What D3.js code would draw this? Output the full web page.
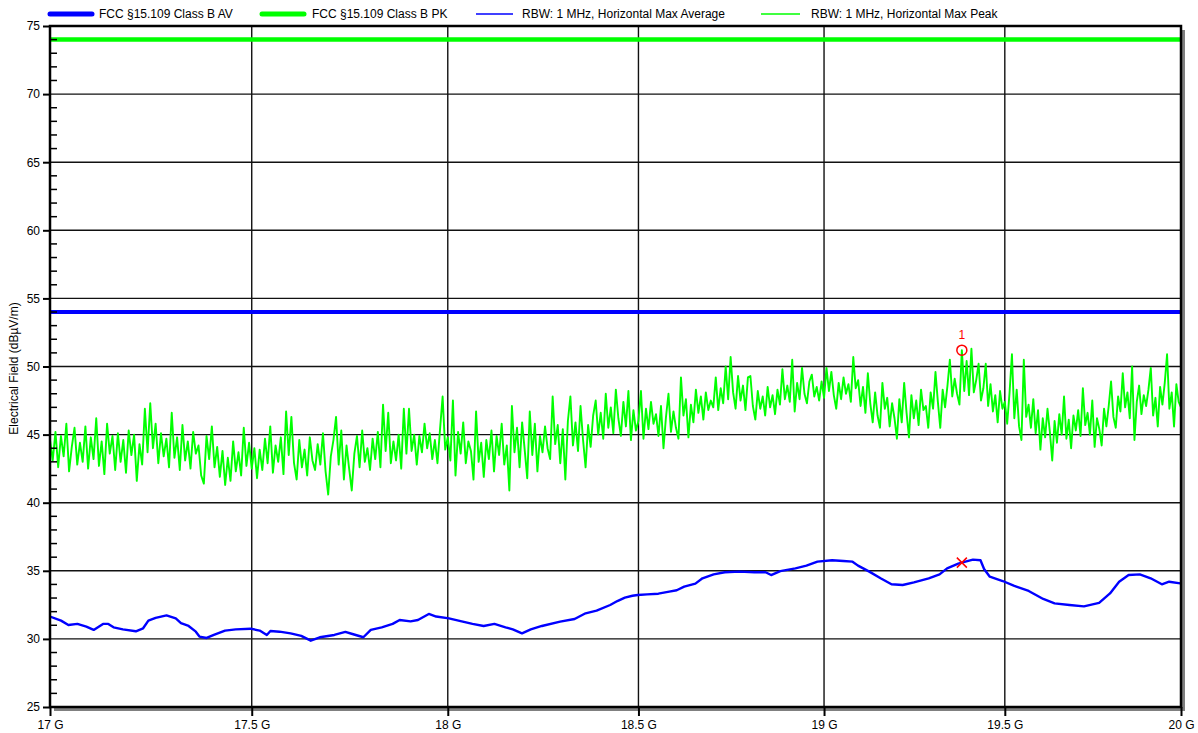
<!DOCTYPE html>
<html>
<head>
<meta charset="utf-8">
<script src="https://cdn.jsdelivr.net/npm/d3@7"></script>
<style>
  body { margin: 0; background: #fff; }
  svg { display: block; font-family: "Liberation Sans", Arial, Helvetica, sans-serif; }
</style>
</head>
<body>
<svg id="chart" width="1198" height="733"></svg>
<script>
// ---- Data -------------------------------------------------------------
const limitAV = 54;   // FCC §15.109 Class B average limit, dBµV/m
const limitPK = 74;   // FCC §15.109 Class B peak limit, dBµV/m

const xTickValues = [17, 17.5, 18, 18.5, 19, 19.5, 20];          // GHz
const yTickValues = [25, 30, 35, 40, 45, 50, 55, 60, 65, 70, 75];  // dBµV/m
const yAxisTitle = "Electrical Field (dBµV/m)";

const legendLabels = [
  "FCC §15.109 Class B AV",
  "FCC §15.109 Class B PK",
  "RBW: 1 MHz, Horizontal Max Average",
  "RBW: 1 MHz, Horizontal Max Peak"
];

// Average detector trace (frequency in GHz, level in dBµV/m)
const avgFreq = [
  17.000, 17.027, 17.045, 17.067, 17.089, 17.107, 17.130, 17.143, 17.156, 17.179,
  17.211, 17.229, 17.242, 17.260, 17.287, 17.310, 17.323, 17.342, 17.360, 17.369,
  17.387, 17.405, 17.433, 17.460, 17.497, 17.520, 17.538, 17.547, 17.570, 17.598,
  17.625, 17.649, 17.672, 17.709, 17.737, 17.755, 17.783, 17.802, 17.830, 17.858,
  17.876, 17.904, 17.923, 17.951, 17.970, 18.003, 18.036, 18.064, 18.093, 18.121,
  18.150, 18.169, 18.193, 18.216, 18.245, 18.293, 18.331, 18.360, 18.389, 18.425,
  18.444, 18.464, 18.484, 18.498, 18.523, 18.553, 18.582, 18.602, 18.622, 18.652,
  18.671, 18.701, 18.731, 18.771, 18.811, 18.841, 18.856, 18.881, 18.922, 18.952,
  18.982, 19.022, 19.053, 19.078, 19.093, 19.124, 19.155, 19.185, 19.216, 19.247,
  19.288, 19.318, 19.339, 19.370, 19.390, 19.411, 19.432, 19.442, 19.458, 19.494,
  19.525, 19.567, 19.608, 19.640, 19.682, 19.723, 19.766, 19.797, 19.823, 19.850,
  19.882, 19.913, 19.945, 19.966, 19.998, 20.000
];
const avgLevel = [
  31.64, 31.34, 31.02, 31.10, 30.90, 30.66, 31.10, 31.10, 30.85, 30.70,
  30.56, 30.78, 31.34, 31.54, 31.73, 31.50, 31.15, 30.95, 30.53, 30.17,
  30.07, 30.29, 30.61, 30.70, 30.75, 30.61, 30.29, 30.58, 30.53, 30.41,
  30.22, 29.87, 30.12, 30.29, 30.51, 30.36, 30.12, 30.66, 30.85, 31.10,
  31.39, 31.29, 31.39, 31.83, 31.64, 31.51, 31.29, 31.10, 30.95, 31.10,
  30.85, 30.70, 30.41, 30.70, 30.95, 31.27, 31.46, 31.88, 32.08, 32.49,
  32.78, 33.03, 33.17, 33.22, 33.27, 33.32, 33.47, 33.57, 33.84, 34.06,
  34.45, 34.74, 34.89, 34.94, 34.89, 34.89, 34.69, 34.98, 35.18, 35.38,
  35.67, 35.77, 35.72, 35.67, 35.38, 34.94, 34.45, 34.01, 33.96, 34.15,
  34.45, 34.74, 35.18, 35.52, 35.67, 35.82, 35.77, 35.13, 34.57, 34.25,
  33.91, 33.52, 32.93, 32.61, 32.49, 32.39, 32.64, 33.34, 34.20, 34.69,
  34.74, 34.45, 34.01, 34.20, 34.08, 34.05
];

// Peak detector trace: sweep 17 GHz .. 20 GHz, equally spaced points
const pkStartGHz = 17;
const pkStopGHz = 20;
const pkLevel = [
  44.6,43.1,45.2,42.6,44.9,43.4,45.8,42.3,44.1,45.5,42.8,44.4,43.0,45.6,42.5,
  44.8,43.2,46.2,42.7,44.5,42.1,45.8,43.6,44.9,42.4,45.1,43.0,44.6,42.2,45.3,
  43.5,45.0,41.6,44.3,42.8,46.9,43.7,47.3,44.0,45.8,42.9,45.1,43.4,44.7,42.6,
  46.6,43.3,44.8,42.4,45.7,43.1,44.5,42.5,45.2,43.6,44.2,42.0,41.4,44.9,43.2,
  45.6,42.6,44.1,41.9,43.8,41.3,43.3,41.6,44.5,42.3,43.7,42.0,45.5,42.7,44.4,
  42.5,44.0,41.8,43.9,42.4,44.7,42.9,45.6,42.2,44.2,43.0,44.8,42.1,46.7,43.5,
  46.3,42.9,41.7,44.6,42.6,43.9,42.0,44.8,43.1,42.4,44.3,42.8,45.1,42.3,40.6,
  43.4,44.6,46.3,42.8,45.3,41.7,44.2,42.5,40.9,43.6,44.9,42.6,45.3,43.0,44.0,
  42.4,44.7,43.2,45.2,42.6,47.2,43.8,46.6,42.9,44.5,43.1,45.0,42.5,46.9,43.6,
  46.9,43.8,45.0,42.8,44.9,43.7,45.8,44.0,45.1,43.2,44.6,42.9,45.4,47.8,43.9,
  44.8,43.1,47.5,42.0,45.2,43.6,45.9,42.9,44.5,43.8,41.7,46.7,43.0,44.4,41.9,
  44.6,43.2,45.3,42.3,44.9,43.5,45.8,42.8,44.2,40.9,47.1,43.7,45.5,42.6,45.9,
  43.9,41.8,46.7,43.5,45.8,42.3,44.9,43.7,45.6,44.0,43.2,47.8,44.3,45.7,42.9,
  45.4,41.7,46.0,47.8,44.2,45.9,43.8,47.1,44.6,42.6,45.7,44.1,46.4,47.5,45.0,
  46.6,44.7,48.0,45.5,47.0,45.1,48.3,46.2,44.9,47.4,45.6,48.2,44.6,46.8,45.3,
  46.0,48.2,44.7,46.9,45.4,47.4,45.8,46.5,44.9,47.1,44.0,46.3,48.0,45.2,46.7,
  45.5,44.7,49.2,46.4,47.6,44.8,47.2,45.9,48.3,46.6,47.8,46.1,48.1,46.8,47.5,
  47.0,49.2,46.8,48.4,47.3,50.0,47.6,50.7,48.1,46.9,49.3,47.5,48.6,46.8,49.2,
  49.3,47.1,46.1,48.2,46.9,47.8,46.4,48.5,47.0,47.9,46.5,48.3,47.2,49.8,47.6,
  48.6,47.4,50.5,46.7,48.8,47.6,49.9,48.0,47.3,48.9,49.4,47.8,48.5,47.5,48.9,
  47.7,49.9,48.2,49.6,47.9,46.9,48.8,47.6,49.2,48.0,48.7,47.4,50.7,48.4,49.0,
  47.1,48.5,46.6,49.5,47.3,45.9,48.1,46.4,45.5,48.8,46.9,47.7,45.6,47.3,46.2,
  44.7,47.6,45.9,48.8,46.6,44.8,47.9,46.2,47.5,45.7,48.3,46.8,47.1,45.5,48.1,
  46.9,49.6,47.4,45.5,48.3,47.0,48.6,50.5,47.8,49.1,48.0,47.2,51.2,48.2,50.4,
  47.9,51.3,48.1,49.0,50.2,47.5,48.4,50.2,47.1,48.7,46.7,47.9,45.9,48.2,46.9,
  47.4,45.8,48.1,50.9,46.2,48.3,45.6,44.6,50.5,46.3,47.2,45.5,47.6,45.1,46.8,
  43.9,46.2,44.8,46.9,45.2,43.1,46.0,44.4,46.5,45.0,47.8,44.7,46.1,44.0,46.4,
  45.3,46.8,44.9,48.4,45.7,46.6,45.0,47.5,44.1,46.2,45.4,44.2,46.9,45.6,47.1,
  48.9,46.3,45.5,47.8,46.7,49.5,47.0,48.1,46.2,50.0,44.6,47.4,48.6,46.5,47.9,
  47.1,48.3,49.9,46.4,47.7,45.6,48.5,47.2,48.8,50.9,46.9,48.1,45.6,48.7,47.4,
  47.0
];

// Marker 1
const markerLabel = "1";
const markerFreq = 19.38;   // GHz
const markerPeak = 51.2;    // dBµV/m on the peak trace
const markerAvg = 35.6;     // dBµV/m on the average trace

// ---- Layout -----------------------------------------------------------
const plot = { left: 50, right: 1181, top: 26, bottom: 707 };
const BLUE = "#0000ff", GREEN = "#00ff00", RED = "#ff0000";

const svg = d3.select("#chart");

const x = d3.scaleLog().domain([17, 20]).range([plot.left, plot.right]);
const y = d3.scaleLinear().domain([25, 75]).range([plot.bottom, plot.top]);

// Drop shadow behind the plot frame
svg.append("rect")
  .attr("x", plot.left + 4).attr("y", plot.top + 4)
  .attr("width", plot.right - plot.left).attr("height", plot.bottom - plot.top)
  .attr("fill", "#808080");
svg.append("rect")
  .attr("x", plot.left).attr("y", plot.top)
  .attr("width", plot.right - plot.left).attr("height", plot.bottom - plot.top)
  .attr("fill", "#ffffff");

// Grid lines
const grid = svg.append("g").attr("stroke", "#111").attr("stroke-width", 1.4);
grid.selectAll("line.h").data(yTickValues.slice(1, -1)).join("line")
  .attr("x1", plot.left).attr("x2", plot.right)
  .attr("y1", d => y(d)).attr("y2", d => y(d));
grid.selectAll("line.v").data(xTickValues.slice(1, -1)).join("line")
  .attr("y1", plot.top).attr("y2", plot.bottom)
  .attr("x1", d => x(d)).attr("x2", d => x(d));

// Clip for traces
svg.append("clipPath").attr("id", "plotClip")
  .append("rect")
  .attr("x", plot.left).attr("y", plot.top)
  .attr("width", plot.right - plot.left).attr("height", plot.bottom - plot.top);
const traces = svg.append("g").attr("clip-path", "url(#plotClip)");

// Limit lines
traces.append("line")
  .attr("x1", x(17)).attr("x2", x(20))
  .attr("y1", y(limitPK)).attr("y2", y(limitPK))
  .attr("stroke", GREEN).attr("stroke-width", 4.5);
traces.append("line")
  .attr("x1", x(17)).attr("x2", x(20))
  .attr("y1", y(limitAV)).attr("y2", y(limitAV))
  .attr("stroke", BLUE).attr("stroke-width", 4);

// Peak trace
const pkStep = (pkStopGHz - pkStartGHz) / (pkLevel.length - 1);
const pkPoints = pkLevel.map((v, i) => [pkStartGHz + i * pkStep, v]);
const line = d3.line().x(d => x(d[0])).y(d => y(d[1]));
traces.append("path")
  .attr("d", line(pkPoints))
  .attr("fill", "none").attr("stroke", GREEN)
  .attr("stroke-width", 1.9).attr("stroke-linejoin", "round");

// Average trace
const avgPoints = avgFreq.map((f, i) => [f, avgLevel[i]]);
traces.append("path")
  .attr("d", line(avgPoints))
  .attr("fill", "none").attr("stroke", BLUE)
  .attr("stroke-width", 2.4).attr("stroke-linejoin", "round");

// Marker 1: circle on the peak trace, cross on the average trace
const mx = x(markerFreq);
svg.append("circle")
  .attr("cx", mx).attr("cy", y(markerPeak)).attr("r", 5)
  .attr("fill", "none").attr("stroke", RED).attr("stroke-width", 1.5);
svg.append("text")
  .attr("x", mx).attr("y", y(markerPeak) - 11)
  .attr("text-anchor", "middle").attr("font-size", 12).attr("fill", RED)
  .text(markerLabel);
const cy = y(markerAvg), cs = 5;
svg.append("path")
  .attr("d", `M${mx - cs},${cy - cs}L${mx + cs},${cy + cs}M${mx - cs},${cy + cs}L${mx + cs},${cy - cs}`)
  .attr("stroke", RED).attr("stroke-width", 1.5).attr("fill", "none");

// Plot frame
svg.append("rect")
  .attr("x", plot.left).attr("y", plot.top)
  .attr("width", plot.right - plot.left).attr("height", plot.bottom - plot.top)
  .attr("fill", "none").attr("stroke", "#000").attr("stroke-width", 2.5);

// Y axis: major ticks outside with labels, minor ticks inside
const yAxis = d3.axisLeft(y).tickValues(yTickValues).tickSize(7).tickPadding(3)
  .tickFormat(d3.format("d"));
const gy = svg.append("g").attr("transform", `translate(${plot.left},0)`).call(yAxis);
gy.select(".domain").remove();
gy.selectAll(".tick line").attr("stroke", "#000").attr("stroke-width", 2);
gy.selectAll(".tick text").attr("font-size", 12).attr("fill", "#000")
  .attr("font-family", "Liberation Sans, Arial, sans-serif");

const minorTicks = d3.range(26, 75).filter(v => v % 5 !== 0);
svg.append("g").selectAll("line").data(minorTicks).join("line")
  .attr("x1", plot.left).attr("x2", plot.left + 7)
  .attr("y1", d => y(d)).attr("y2", d => y(d))
  .attr("stroke", "#000").attr("stroke-width", 1.5);

// X axis
const xAxis = d3.axisBottom(x).tickValues(xTickValues).tickSize(9).tickPadding(4)
  .tickFormat(d => `${d} G`);
const gx = svg.append("g").attr("transform", `translate(0,${plot.bottom})`).call(xAxis);
gx.select(".domain").remove();
gx.selectAll(".tick line").attr("stroke", "#000").attr("stroke-width", 2);
gx.selectAll(".tick text").attr("font-size", 12).attr("fill", "#000")
  .attr("font-family", "Liberation Sans, Arial, sans-serif");

// Y axis title
svg.append("text")
  .attr("transform", `translate(18,${(plot.top + plot.bottom) / 2 + 2}) rotate(-90)`)
  .attr("text-anchor", "middle").attr("font-size", 12).attr("fill", "#000")
  .text(yAxisTitle);

// Legend
const legendLayout = [
  { x0: 50,  x1: 92,  tx: 99,  color: BLUE,  width: 5 },
  { x0: 262, x1: 304, tx: 312, color: GREEN, width: 5 },
  { x0: 476, x1: 513, tx: 522, color: BLUE,  width: 1.5 },
  { x0: 761, x1: 800, tx: 811, color: GREEN, width: 1.5 }
];
const legend = svg.append("g");
legendLabels.forEach((label, i) => {
  const l = legendLayout[i];
  legend.append("line")
    .attr("x1", l.x0).attr("x2", l.x1).attr("y1", 14).attr("y2", 14)
    .attr("stroke", l.color).attr("stroke-width", l.width)
    .attr("stroke-linecap", l.width > 2 ? "round" : "butt");
  legend.append("text")
    .attr("x", l.tx).attr("y", 18)
    .attr("font-size", 12).attr("fill", "#000")
    .text(label);
});
</script>
</body>
</html>
